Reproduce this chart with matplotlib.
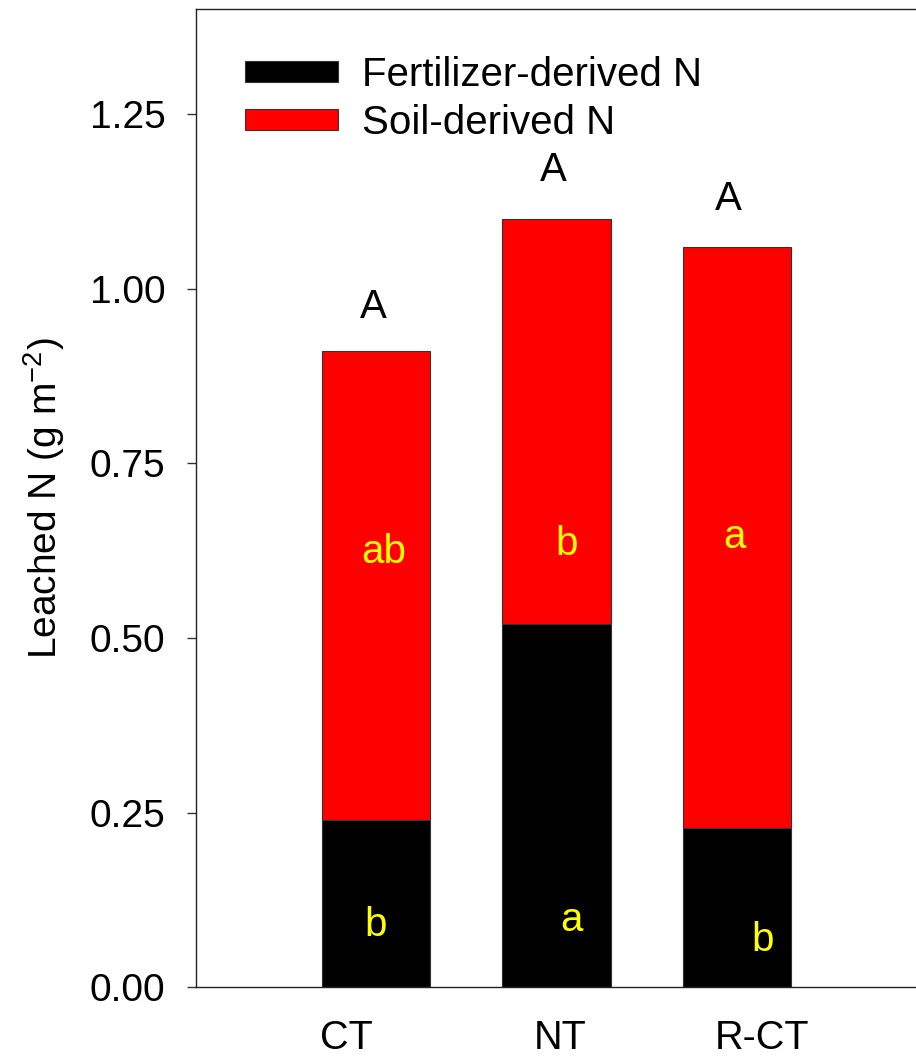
import numpy as np
import matplotlib.pyplot as plt
import matplotlib.transforms as mtransforms

plt.rcParams['font.family'] = ['Liberation Sans', 'DejaVu Sans']
plt.rcParams['mathtext.fontset'] = 'custom'
plt.rcParams['mathtext.rm'] = 'Liberation Sans'
plt.rcParams['mathtext.it'] = 'Liberation Sans:italic'

# data
treatments = ['CT', 'NT', 'R-CT']
fert_n = [0.240, 0.520, 0.228]
total_n = [0.911, 1.100, 1.060]
soil_n = [t - f for t, f in zip(total_n, fert_n)]

total_letters = ['A', 'A', 'A']
soil_letters = ['ab', 'b', 'a']
fert_letters = ['b', 'a', 'b']

# label positions (data coords)
total_lx = [0.982, 1.980, 2.951]
total_ly = [0.958, 1.154, 1.113]
soil_lx = [1.043, 2.058, 2.990]
soil_ly = [0.607, 0.619, 0.629]
fert_lx = [0.995, 2.085, 3.142]
fert_ly = [0.074, 0.080, 0.052]
xlabel_shift_px = [-30, 4, 25]

W, H = 916, 1063
fig = plt.figure(figsize=(W / 100, H / 100), dpi=100)
ax = fig.add_axes([196 / W, (H - 987.3) / H, 721 / W, (987.3 - 9) / H])

x = np.arange(1, len(treatments) + 1)
ax.bar(x, fert_n, width=0.6, color='black', edgecolor='#333333', linewidth=0.8,
       label='Fertilizer-derived N')
ax.bar(x, soil_n, width=0.6, bottom=fert_n, color='#ff0000', edgecolor='#333333',
       linewidth=0.8, label='Soil-derived N')

for i in range(len(treatments)):
    ax.text(total_lx[i], total_ly[i], total_letters[i], fontsize=29, color='black',
            ha='center', va='baseline')
    ax.text(soil_lx[i], soil_ly[i], soil_letters[i], fontsize=29, color='#ffff00',
            ha='center', va='baseline')
    ax.text(fert_lx[i], fert_ly[i], fert_letters[i], fontsize=29, color='#ffff00',
            ha='center', va='baseline')

ax.set_xlim(0, 4)
ax.set_ylim(0, 1.4)
ax.set_yticks([0, 0.25, 0.5, 0.75, 1.0, 1.25])
ax.set_yticklabels(['0.00', '0.25', '0.50', '0.75', '1.00', '1.25'])
ax.set_xticks(x)
ax.set_xticklabels(treatments)
ax.tick_params(axis='y', labelsize=28, length=6.5, width=1, pad=15.5, color='#333333')
ax.tick_params(axis='x', labelsize=28.5, length=0, pad=23)
for lab, dx in zip(ax.get_xticklabels(), xlabel_shift_px):
    lab.set_transform(lab.get_transform() + mtransforms.Affine2D().translate(dx, 0))

ax.set_ylabel('Leached N (g m$^{-2}$)', fontsize=28, labelpad=16)
ax.spines['right'].set_visible(False)
for s in ['left', 'bottom', 'top']:
    ax.spines[s].set_linewidth(1.0)
    ax.spines[s].set_color('#222222')

ax.legend(loc='upper left', bbox_to_anchor=(49 / 721, 1 - 47 / 978.3), frameon=False,
          fontsize=29, handlelength=2.3, handleheight=0.42, handletextpad=0.6,
          labelspacing=0.25, borderpad=0, borderaxespad=0)

fig.savefig('out.png', dpi=100)
